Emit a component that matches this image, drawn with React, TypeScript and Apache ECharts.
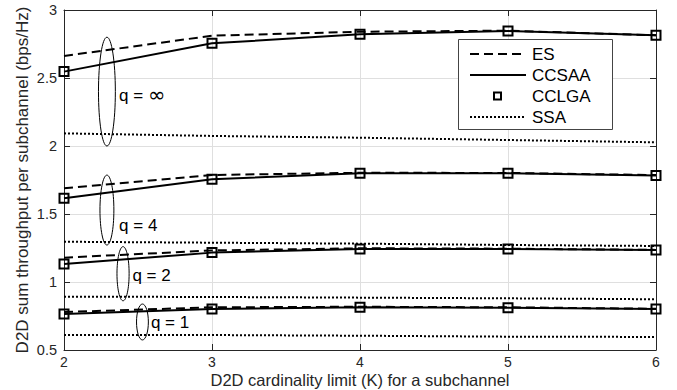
import React, { useEffect, useRef } from 'react';
import * as echarts from 'echarts';

// x values: D2D cardinality limit K
const K = [2, 3, 4, 5, 6];

// q = infinity
const esInf = [2.662, 2.811, 2.84, 2.848, 2.814];
const ccsaaInf = [2.547, 2.755, 2.821, 2.846, 2.814];
const cclgaInf = [2.547, 2.755, 2.821, 2.846, 2.814];
const ssaInf = [2.093, 2.074, 2.061, 2.044, 2.027];
// q = 4
const esQ4 = [1.689, 1.787, 1.803, 1.802, 1.786];
const ccsaaQ4 = [1.615, 1.755, 1.799, 1.799, 1.784];
const cclgaQ4 = [1.615, 1.755, 1.799, 1.799, 1.784];
const ssaQ4 = [1.296, 1.289, 1.282, 1.272, 1.265];
// q = 2
const esQ2 = [1.179, 1.232, 1.248, 1.245, 1.236];
const ccsaaQ2 = [1.132, 1.216, 1.243, 1.243, 1.235];
const cclgaQ2 = [1.132, 1.216, 1.243, 1.243, 1.235];
const ssaQ2 = [0.892, 0.89, 0.885, 0.88, 0.873];
// q = 1
const esQ1 = [0.779, 0.814, 0.818, 0.814, 0.803];
const ccsaaQ1 = [0.765, 0.801, 0.814, 0.811, 0.801];
const cclgaQ1 = [0.765, 0.801, 0.814, 0.811, 0.801];
const ssaQ1 = [0.61, 0.61, 0.605, 0.598, 0.596];

const legendNames = ['ES', 'CCSAA', 'CCLGA', 'SSA'];

// annotations (data coordinates)
const annotLabels = ['q = ', 'q = 4', 'q = 2', 'q = 1'];
const ellipseCx = [2.29, 2.29, 2.399, 2.53];
const ellipseCy = [2.4, 1.529, 1.061, 0.706];
const ellipseRx = [0.057, 0.047, 0.041, 0.04];
const ellipseRy = [0.4, 0.257, 0.199, 0.132];
const labelX = [2.372, 2.372, 2.462, 2.587];
const labelY = [2.375, 1.419, 1.051, 0.704];

const FONT = "'Liberation Sans', Arial, Helvetica, sans-serif";
const AX = '#262626';

const pairs = (ys: number[]) => K.map((k, i) => [k, ys[i]]);

export default function App() {
  const ref = useRef<HTMLDivElement>(null);
  useEffect(() => {
    if (!ref.current) return;
    const chart = echarts.init(ref.current, null, { renderer: 'svg' });

    const groups = [
      [esInf, ccsaaInf, cclgaInf, ssaInf],
      [esQ4, ccsaaQ4, cclgaQ4, ssaQ4],
      [esQ2, ccsaaQ2, cclgaQ2, ssaQ2],
      [esQ1, ccsaaQ1, cclgaQ1, ssaQ1],
    ];
    const series: any[] = [];
    groups.forEach((g) => {
      series.push({
        name: 'ES', type: 'line', data: pairs(g[0]), symbol: 'none', z: 3,
        lineStyle: { color: '#000', width: 2, type: [9, 5] },
      });
      series.push({
        name: 'CCSAA', type: 'line', data: pairs(g[1]), symbol: 'none', z: 4,
        lineStyle: { color: '#000', width: 2, type: 'solid' },
      });
      series.push({
        name: 'CCLGA', type: 'line', data: pairs(g[2]), symbol: 'rect', symbolSize: 9, z: 5,
        lineStyle: { opacity: 0, width: 0 },
        itemStyle: { color: 'rgba(0,0,0,0)', borderColor: '#000', borderWidth: 2 },
      });
      series.push({
        name: 'SSA', type: 'line', data: pairs(g[3]), symbol: 'none', z: 3,
        lineStyle: { color: '#000', width: 2, type: [2, 2] },
      });
    });

    chart.setOption({
      animation: false,
      backgroundColor: '#fff',
      textStyle: { fontFamily: FONT },
      grid: { left: 64, right: 21, top: 10, bottom: 40, containLabel: false, outerBoundsMode: 'none' },
      xAxis: [
        {
          type: 'value', min: 2, max: 6, interval: 1, position: 'bottom',
          name: 'D2D cardinality limit (K) for a subchannel', nameLocation: 'middle', nameGap: 21,
          nameMoveOverlap: false,
          nameTextStyle: { fontSize: 16.5, color: AX, fontFamily: FONT },
          axisLine: { show: true, onZero: false, lineStyle: { color: AX, width: 1 } },
          axisTick: { show: true, inside: true, length: 6, lineStyle: { color: AX } },
          axisLabel: { fontSize: 14, color: AX, margin: 5, fontFamily: FONT },
          splitLine: { show: true, lineStyle: { color: '#dfdfdf', width: 1 } },
        },
        {
          type: 'value', min: 2, max: 6, interval: 1, position: 'top',
          axisLine: { show: true, onZero: false, lineStyle: { color: AX, width: 1 } },
          axisTick: { show: true, inside: true, length: 6, lineStyle: { color: AX } },
          axisLabel: { show: false },
          splitLine: { show: false },
        },
      ],
      yAxis: [
        {
          type: 'value', min: 0.5, max: 3, interval: 0.5, position: 'left',
          name: 'D2D sum throughput per subchannel (bps/Hz)', nameLocation: 'middle', nameGap: 33,
          nameMoveOverlap: false,
          nameTextStyle: { fontSize: 17, color: AX, fontFamily: FONT },
          axisLine: { show: true, onZero: false, lineStyle: { color: AX, width: 1 } },
          axisTick: { show: true, inside: true, length: 6, lineStyle: { color: AX } },
          axisLabel: { fontSize: 14.5, color: AX, margin: 7, fontFamily: FONT },
          splitLine: { show: true, lineStyle: { color: '#dfdfdf', width: 1 } },
        },
        {
          type: 'value', min: 0.5, max: 3, interval: 0.5, position: 'right',
          axisLine: { show: true, onZero: false, lineStyle: { color: AX, width: 1 } },
          axisTick: { show: true, inside: true, length: 6, lineStyle: { color: AX } },
          axisLabel: { show: false },
          splitLine: { show: false },
        },
      ],
      series,
    });

    // annotations placed through the chart's own coordinate conversion
    const graphics: any[] = [];
    annotLabels.forEach((lab, i) => {
      const c = chart.convertToPixel({ xAxisIndex: 0, yAxisIndex: 0 }, [ellipseCx[i], ellipseCy[i]]) as number[];
      const e = chart.convertToPixel({ xAxisIndex: 0, yAxisIndex: 0 }, [ellipseCx[i] + ellipseRx[i], ellipseCy[i] + ellipseRy[i]]) as number[];
      const t = chart.convertToPixel({ xAxisIndex: 0, yAxisIndex: 0 }, [labelX[i], labelY[i]]) as number[];
      graphics.push({
        type: 'ellipse', z: 10,
        shape: { cx: c[0], cy: c[1], rx: Math.abs(e[0] - c[0]), ry: Math.abs(c[1] - e[1]) },
        style: { fill: 'none', stroke: '#000', lineWidth: 1 },
      });
      graphics.push({
        type: 'text', z: 10, x: t[0], y: t[1],
        style: i === 0
          ? {
              text: lab + '{inf|∞}', fill: '#000', font: `17px ${FONT}`, verticalAlign: 'middle', align: 'left',
              rich: { inf: { fontSize: 21, fontFamily: "'DejaVu Sans', sans-serif", fill: '#000' } },
            }
          : { text: lab, fill: '#000', font: `17px ${FONT}`, verticalAlign: 'middle', align: 'left' },
      });
    });

    // legend box
    const lx = 458, ly = 39, lw = 154, lh = 90;
    graphics.push({
      type: 'rect', z: 20, shape: { x: lx + 0.5, y: ly + 0.5, width: lw, height: lh },
      style: { fill: '#fff', stroke: '#444', lineWidth: 1 },
    });
    const rowY = [54, 75, 96, 117];
    legendNames.forEach((nm, i) => {
      const y = rowY[i];
      if (nm === 'CCLGA') {
        graphics.push({
          type: 'rect', z: 21, shape: { x: 494, y: y - 3.5, width: 7, height: 7 },
          style: { fill: 'none', stroke: '#000', lineWidth: 2 },
        });
      } else {
        graphics.push({
          type: 'line', z: 21, shape: { x1: 470, y1: y, x2: 526, y2: y },
          style: {
            stroke: '#000', lineWidth: 2,
            lineDash: nm === 'ES' ? [9, 5] : nm === 'SSA' ? [2, 2] : null,
          },
        });
      }
      graphics.push({
        type: 'text', z: 21, x: 532, y,
        style: { text: nm, fill: '#000', font: `17px ${FONT}`, verticalAlign: 'middle', align: 'left' },
      });
    });

    chart.setOption({ graphic: graphics });
    return () => chart.dispose();
  }, []);
  return (
    <div
      ref={ref}
      style={{ position: 'fixed', left: 0, top: 0, width: 677, height: 390, background: '#fff' }}
    />
  );
}
